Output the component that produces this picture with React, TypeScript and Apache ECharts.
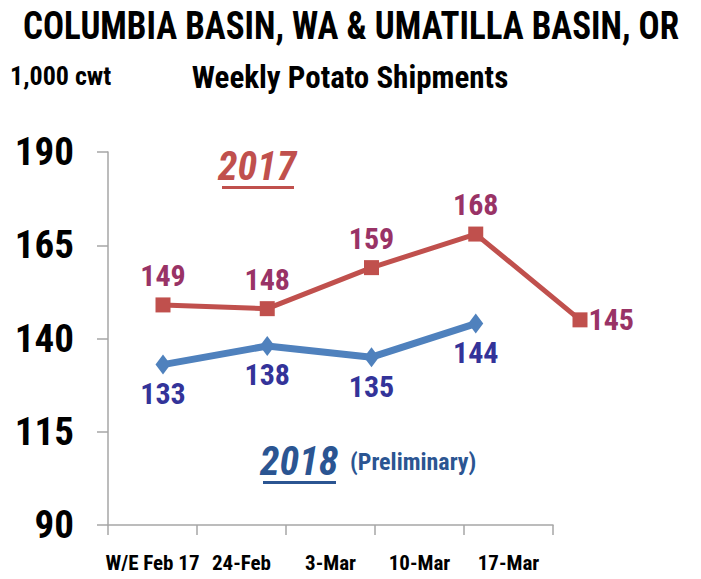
import React, { useEffect, useRef } from "react";
import * as echarts from "echarts";

const categories = ["W/E Feb 17", "24-Feb", "3-Mar", "10-Mar", "17-Mar"];
const pointSlots = ["p1", "p2", "p3", "p4", "p5"];
const values2017 = [149, 148, 159, 168, 145];
const values2018 = [133, 138, 135, 144];
const yTicks = [90, 115, 140, 165, 190];

const FONT = "'Liberation Sans Narrow', 'Roboto Condensed', 'Liberation Sans', sans-serif";
const RED = "#C0504D";
const BLUE = "#4F81BD";
const RED_LABEL = "#993366";
const BLUE_LABEL = "#333399";

export default function App() {
  const ref = useRef<HTMLDivElement>(null);
  useEffect(() => {
    if (!ref.current) return;
    const chart = echarts.init(ref.current, undefined, { renderer: "svg" });
    const yMin = yTicks[0];
    const yMax = yTicks[yTicks.length - 1];
    const redData = values2017.map((v, i) =>
      i === values2017.length - 1
        ? { value: v, label: { position: "right", distance: 1 } }
        : v
    );
    chart.setOption({
      animation: false,
      backgroundColor: "#ffffff",
      textStyle: { fontFamily: FONT },
      grid: [
        { left: 108, right: 148, top: 152, bottom: 54 },
        { left: 163, right: 121, top: 152, bottom: 54 },
      ],
      xAxis: [
        {
          type: "category",
          gridIndex: 0,
          data: categories,
          boundaryGap: true,
          axisLine: { lineStyle: { color: "#A6A6A6", width: 1.5 } },
          axisTick: { show: true, length: 10, alignWithLabel: false, lineStyle: { color: "#A6A6A6", width: 1.5 } },
          axisLabel: { color: "#000", fontFamily: FONT, fontWeight: "bold", fontSize: 21, margin: 27, interval: 0 },
        },
        {
          type: "category",
          gridIndex: 1,
          data: pointSlots,
          boundaryGap: false,
          show: false,
        },
      ],
      yAxis: [
        {
          type: "value",
          gridIndex: 0,
          min: yMin,
          max: yMax,
          interval: 25,
          splitLine: { show: false },
          axisLine: { show: true, lineStyle: { color: "#A6A6A6", width: 1.5 } },
          axisTick: { show: true, length: 11, lineStyle: { color: "#A6A6A6", width: 1.5 } },
          axisLabel: { color: "#000", fontFamily: FONT, fontWeight: "bold", fontSize: 39, margin: 34 },
        },
        {
          type: "value",
          gridIndex: 1,
          min: yMin,
          max: yMax,
          interval: 25,
          show: false,
          splitLine: { show: false },
        },
      ],
      series: [
        {
          name: "2017",
          type: "line",
          xAxisIndex: 1,
          yAxisIndex: 1,
          data: redData,
          symbol: "rect",
          symbolSize: 15,
          lineStyle: { color: RED, width: 5 },
          itemStyle: { color: RED },
          label: {
            show: true,
            position: "top",
            distance: 7,
            color: RED_LABEL,
            fontFamily: FONT,
            fontWeight: "bold",
            fontSize: 30,
          },
        },
        {
          name: "2018",
          type: "line",
          xAxisIndex: 1,
          yAxisIndex: 1,
          data: values2018,
          symbol: "diamond",
          symbolSize: [15, 20],
          lineStyle: { color: BLUE, width: 7 },
          itemStyle: { color: BLUE },
          label: {
            show: true,
            position: "bottom",
            distance: 4,
            color: BLUE_LABEL,
            fontFamily: FONT,
            fontWeight: "bold",
            fontSize: 30,
          },
        },
      ],
      graphic: [
        {
          type: "text",
          x: 351,
          y: 6,
          scaleY: 1.12,
          style: {
            text: "COLUMBIA BASIN, WA & UMATILLA BASIN, OR",
            fontFamily: FONT,
            fontWeight: "bold",
            fontSize: 35,
            fill: "#000",
            align: "center",
          },
        },
        {
          type: "text",
          x: 10,
          y: 63,
          style: { text: "1,000 cwt", fontFamily: FONT, fontWeight: "bold", fontSize: 26, fill: "#000" },
        },
        {
          type: "text",
          x: 350,
          y: 62,
          style: {
            text: "Weekly Potato Shipments",
            fontFamily: FONT,
            fontWeight: "bold",
            fontSize: 31,
            fill: "#000",
            align: "center",
          },
        },
        {
          type: "text",
          x: 257,
          y: 146,
          style: {
            text: "2017",
            fontFamily: FONT,
            fontWeight: "bold",
            fontStyle: "italic",
            fontSize: 40,
            fill: RED,
            align: "center",
          },
        },
        { type: "rect", shape: { x: 222, y: 186, width: 72, height: 3 }, style: { fill: RED } },
        {
          type: "text",
          x: 299,
          y: 441,
          style: {
            text: "2018",
            fontFamily: FONT,
            fontWeight: "bold",
            fontStyle: "italic",
            fontSize: 40,
            fill: "#2B5592",
            align: "center",
          },
        },
        { type: "rect", shape: { x: 263, y: 481, width: 73, height: 3 }, style: { fill: "#2B5592" } },
        {
          type: "text",
          x: 350,
          y: 450,
          style: {
            text: "(Preliminary)",
            fontFamily: FONT,
            fontWeight: "bold",
            fontSize: 24,
            fill: "#2B5592",
          },
        },
      ],
    });
    return () => chart.dispose();
  }, []);
  return (
    <div
      ref={ref}
      style={{ position: "absolute", left: 0, top: 0, width: 701, height: 579 }}
    />
  );
}
